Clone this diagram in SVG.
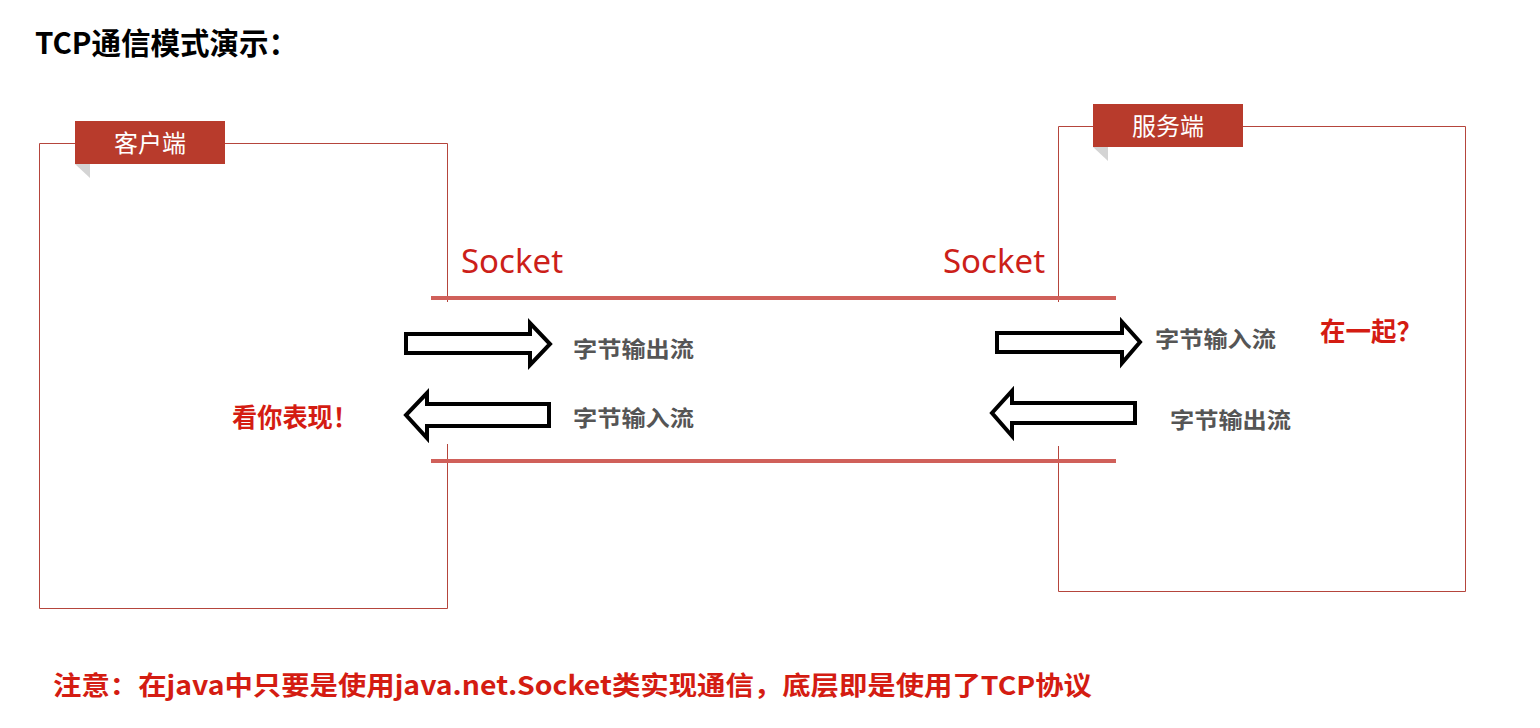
<svg xmlns="http://www.w3.org/2000/svg" width="1540" height="728" viewBox="0 0 1540 728">
<style>
.frame{fill:none;stroke:#b5453c;stroke-width:1}
.tab{fill:#b83b2c}
.fold{fill:#d4d4d4}
.tabtxt{font-family:"Noto Sans CJK SC","Noto Sans",sans-serif;font-size:24px;fill:#ffffff}
.sock{font-family:"Noto Sans","Open Sans",sans-serif;font-size:33px;fill:#cc1f1a}
.bus{stroke:#d0605a;stroke-width:4;fill:none}
.arrow{fill:#ffffff;stroke:#000000;stroke-width:4;stroke-linejoin:miter}
.lbl{font-family:"Noto Sans CJK SC",sans-serif;font-size:22px;font-weight:bold;fill:#555555}
.red{font-family:"Noto Sans CJK SC",sans-serif;font-weight:bold;fill:#d41c12}
</style>
<rect width="1540" height="728" fill="#ffffff"/>
<text x="35" y="54" font-family="Noto Sans CJK SC, sans-serif" font-size="30" font-weight="bold" fill="#000" textLength="263" lengthAdjust="spacingAndGlyphs">TCP通信模式演示：</text>

<g id="client">
  <path class="frame" d="M447.5,302 V143.5 H39.5 V608.5 H447.5 V444"/>
  <polygon class="fold" points="75,164 90,164 90,178"/>
  <rect class="tab" x="75" y="121" width="150" height="43"/>
  <text class="tabtxt" x="150" y="152" text-anchor="middle">客户端</text>
</g>

<g id="server">
  <path class="frame" d="M1058.5,302 V126.5 H1465.5 V591.5 H1058.5 V446"/>
  <polygon class="fold" points="1093,147 1108,147 1108,161"/>
  <rect class="tab" x="1093" y="104" width="150" height="43"/>
  <text class="tabtxt" x="1168" y="135" text-anchor="middle">服务端</text>
</g>

<g id="sockets">
  <text class="sock" x="461" y="273">Socket</text>
  <text class="sock" x="943" y="273">Socket</text>
</g>

<g id="connectors">
  <line class="bus" x1="431" y1="298" x2="1116" y2="298"/>
  <line class="bus" x1="431" y1="461" x2="1116" y2="461"/>
  <polygon class="arrow" points="406,334 530,334 530,323 550,344 530,365 530,353 406,353"/>
  <polygon class="arrow" points="997,333 1122,333 1122,322 1140,342 1122,363 1122,352 997,352"/>
  <polygon class="arrow" points="549,404 427,404 427,393 406,415 427,438 427,426 549,426"/>
  <polygon class="arrow" points="1135,403 1012,403 1012,391 992,413 1012,436 1012,423 1135,423"/>
</g>

<g id="labels">
  <text class="lbl" x="573" y="357" textLength="121" lengthAdjust="spacingAndGlyphs">字节输出流</text>
  <text class="lbl" x="573" y="426" textLength="121" lengthAdjust="spacingAndGlyphs">字节输入流</text>
  <text class="lbl" x="1155" y="347" textLength="121" lengthAdjust="spacingAndGlyphs">字节输入流</text>
  <text class="lbl" x="1170" y="428" textLength="121" lengthAdjust="spacingAndGlyphs">字节输出流</text>
  <text class="red" x="232" y="427" font-size="26" textLength="126" lengthAdjust="spacingAndGlyphs">看你表现！</text>
  <text class="red" x="1320" y="341" font-size="26" textLength="102" lengthAdjust="spacingAndGlyphs">在一起？</text>
</g>

<text class="red" x="53" y="695" font-size="26" textLength="1039" lengthAdjust="spacingAndGlyphs">注意：在java中只要是使用java.net.Socket类实现通信，底层即是使用了TCP协议</text>
</svg>
